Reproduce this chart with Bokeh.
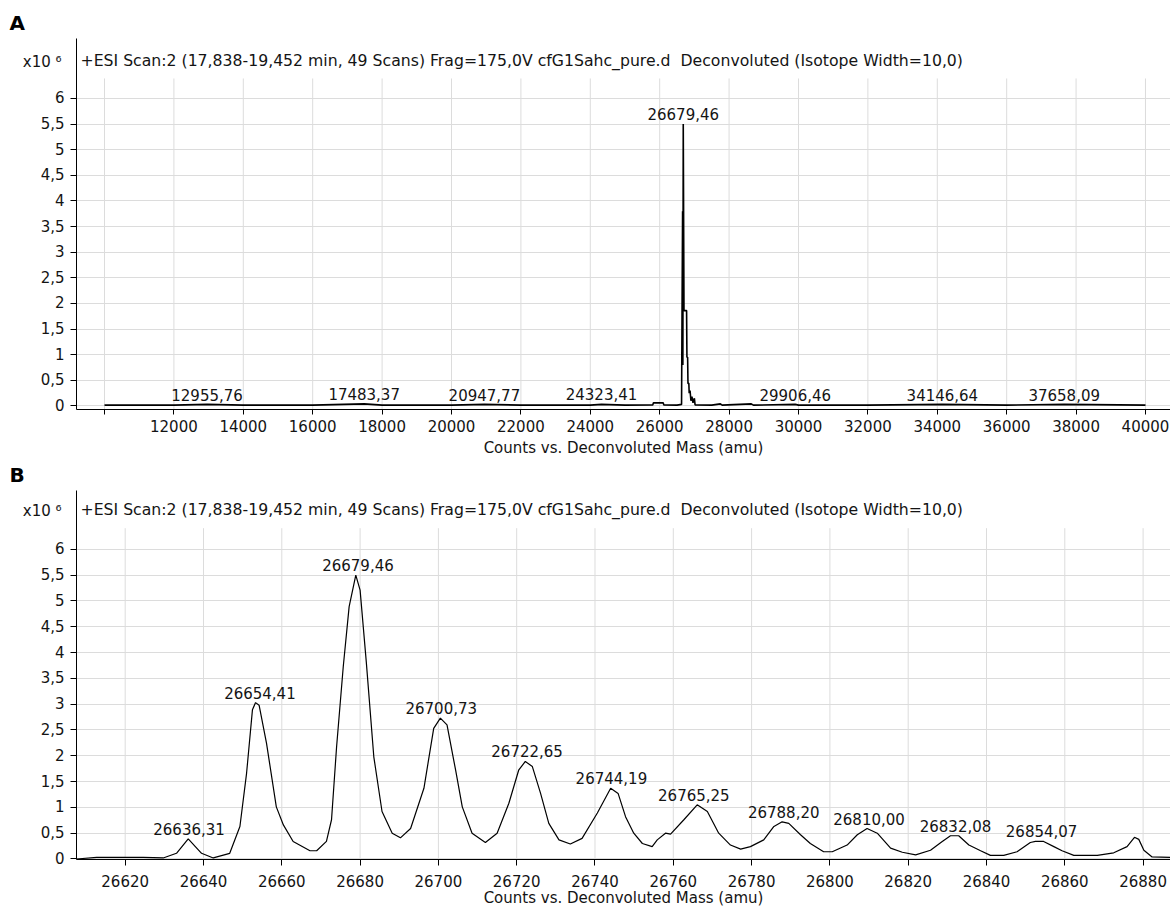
from bokeh.plotting import figure
from bokeh.layouts import column
from bokeh.models import FixedTicker, Label, ColumnDataSource, Range1d, LinearAxis
from bokeh.embed import file_html
from bokeh.resources import INLINE
from bokeh.core.properties import value

# ---------------- data ----------------
header_text = "+ESI Scan:2 (17,838-19,452 min, 49 Scans) Frag=175,0V cfG1Sahc_pure.d  Deconvoluted (Isotope Width=10,0)"
x_axis_title = "Counts vs. Deconvoluted Mass (amu)"
y_scale_text = "x10 \u2076\u2009"

y_ticks = [0, 0.5, 1, 1.5, 2, 2.5, 3, 3.5, 4, 4.5, 5, 5.5, 6]
y_tick_labels = ["0", "0,5", "1", "1,5", "2", "2,5", "3", "3,5", "4", "4,5", "5", "5,5", "6"]

# Panel A: full deconvoluted mass range (counts x10^6)
a_x_ticks = [10000, 12000, 14000, 16000, 18000, 20000, 22000, 24000, 26000, 28000,
             30000, 32000, 34000, 36000, 38000, 40000]
a_x_tick_labels = ["", "12000", "14000", "16000", "18000", "20000", "22000", "24000", "26000", "28000",
                   "30000", "32000", "34000", "36000", "38000", "40000"]
mass_a = [10000, 12000, 12955.76, 14000, 16000, 17483.37, 18000, 20000, 20947.77, 22000,
          24000, 24323.41, 25000, 25800, 25820, 26100, 26120, 26500, 26630, 26660,
          26668, 26679, 26700, 26775, 26785, 26805, 26815, 26840, 26850, 26875,
          26900, 26930, 26960, 27000, 27020, 27500, 27750, 27800, 28640, 28700,
          29906.46, 30000, 32000, 34146.64, 36000, 37658.09, 40000]
counts_a = [0.015, 0.015, 0.03, 0.015, 0.015, 0.04, 0.015, 0.015, 0.03, 0.015,
            0.015, 0.03, 0.015, 0.02, 0.06, 0.06, 0.02, 0.015, 0.03, 3.80,
            0.80, 5.50, 1.86, 1.86, 0.95, 0.95, 0.44, 0.44, 0.25, 0.30,
            0.10, 0.18, 0.06, 0.15, 0.02, 0.015, 0.04, 0.015, 0.04, 0.015,
            0.03, 0.015, 0.015, 0.03, 0.015, 0.03, 0.015]
a_peak_mass = [12955.76, 17483.37, 20947.77, 24323.41, 26679.46, 29906.46, 34146.64, 37658.09]
a_peak_height = [0.02, 0.03, 0.02, 0.03, 5.50, 0.02, 0.02, 0.02]

# Panel B: zoom on the main charge-state envelope
b_x_ticks = [26620, 26640, 26660, 26680, 26700, 26720, 26740, 26760, 26780, 26800,
             26820, 26840, 26860, 26880]
b_x_tick_labels = [str(t) for t in b_x_ticks]
mass_b = [26607.6, 26612.7, 26624.6, 26629.7, 26633.1, 26636.1, 26639.5, 26642.5, 26646.7, 26649.3,
          26651.0, 26652.5, 26653.3, 26654.2, 26656.1, 26658.6, 26660.4, 26662.9, 26667.2, 26668.9,
          26671.4, 26672.7, 26674.0, 26675.7, 26677.2, 26678.9, 26680.0, 26681.6, 26683.5, 26685.6,
          26688.2, 26690.3, 26692.9, 26696.3, 26698.8, 26700.5, 26702.2, 26704.4, 26706.1, 26708.6,
          26712.0, 26715.0, 26718.0, 26720.5, 26722.2, 26724.0, 26726.1, 26728.2, 26730.8, 26733.7,
          26736.7, 26740.6, 26744.0, 26745.9, 26747.8, 26749.9, 26752.1, 26754.6, 26755.9, 26758.0,
          26759.3, 26762.7, 26766.1, 26768.7, 26771.6, 26774.6, 26777.2, 26779.7, 26783.1, 26785.7,
          26787.8, 26789.5, 26792.5, 26795.0, 26798.4, 26800.6, 26804.4, 26807.0, 26809.5, 26812.1,
          26815.5, 26818.5, 26821.9, 26825.7, 26828.7, 26830.8, 26832.9, 26835.5, 26838.5, 26841.0,
          26844.4, 26847.8, 26851.2, 26852.5, 26854.6, 26857.2, 26859.3, 26862.3, 26868.3, 26872.5,
          26875.9, 26877.8, 26878.9, 26880.2, 26882.3, 26887.0]
counts_b = [0.00, 0.03, 0.03, 0.02, 0.11, 0.39, 0.11, 0.02, 0.11, 0.63,
            1.66, 2.89, 3.03, 2.98, 2.24, 1.01, 0.66, 0.34, 0.16, 0.16,
            0.34, 0.76, 2.18, 3.73, 4.89, 5.50, 5.21, 3.80, 1.98, 0.92,
            0.50, 0.41, 0.59, 1.37, 2.53, 2.73, 2.60, 1.72, 1.01, 0.50,
            0.32, 0.50, 1.08, 1.72, 1.89, 1.79, 1.27, 0.69, 0.37, 0.29,
            0.40, 0.89, 1.37, 1.27, 0.82, 0.50, 0.30, 0.24, 0.37, 0.50,
            0.48, 0.76, 1.05, 0.92, 0.50, 0.27, 0.19, 0.24, 0.37, 0.63,
            0.72, 0.69, 0.47, 0.30, 0.14, 0.14, 0.27, 0.47, 0.59, 0.50,
            0.21, 0.13, 0.08, 0.17, 0.34, 0.45, 0.45, 0.27, 0.16, 0.07,
            0.07, 0.14, 0.32, 0.34, 0.34, 0.24, 0.16, 0.07, 0.07, 0.12,
            0.24, 0.42, 0.38, 0.17, 0.04, 0.03]
b_peak_mass = [26636.31, 26654.41, 26679.46, 26700.73, 26722.65, 26744.19, 26765.25,
               26788.20, 26810.00, 26832.08, 26854.07]
b_peak_height = [0.39, 3.03, 5.50, 2.73, 1.89, 1.37, 1.05, 0.72, 0.59, 0.45, 0.34]

# ---------------- styling ----------------
FONT = "DejaVu Sans"
FS = "15px"
TXT = "#141414"
GRID = "#dcdcdc"


def fmt_mass(m):
    return f"{m:.2f}".replace(".", ",")


def make_panel(letter, height, top, bottom, xr, yr, grid_top, scale_pos, xticks, xlabels,
               masses, counts, pk_mass, pk_height, lw, head_dy,
               title_align, title_standoff, x_tick_out, x_standoff, x_label_standoff):
    p = figure(width=1170, height=height, x_range=Range1d(*xr), y_range=Range1d(*yr),
               output_backend="svg", toolbar_location=None,
               min_border_left=76, min_border_right=0, min_border_top=top, min_border_bottom=bottom)
    p.outline_line_color = None
    p.background_fill_color = "white"
    p.border_fill_color = "white"
    fh = height - top - bottom

    # panel letter as the plot title
    p.title.text = letter
    p.title.align = "left"
    p.title.vertical_align = title_align
    p.title.offset = -67
    p.title.standoff = title_standoff
    p.title.text_font = FONT
    p.title.text_font_size = "20px"
    p.title.text_font_style = "bold"
    p.title.text_color = "black"

    # grids
    p.xgrid.visible = False
    p.ygrid.ticker = FixedTicker(ticks=y_ticks)
    p.ygrid.grid_line_color = GRID
    p.segment(x0=xticks, x1=xticks, y0=[yr[0]] * len(xticks), y1=[grid_top] * len(xticks),
              line_color=GRID, line_width=1, level="underlay")

    # x axis
    xa = p.xaxis[0]
    xa.ticker = FixedTicker(ticks=xticks)
    xa.major_label_overrides = {t: s for t, s in zip(xticks, xlabels)}
    xa.minor_tick_line_color = None
    xa.major_tick_in = 0
    xa.major_tick_out = x_tick_out
    xa.major_label_standoff = x_standoff
    xa.axis_label = x_axis_title
    xa.axis_label_standoff = x_label_standoff
    xa.axis_label_text_font = FONT
    xa.axis_label_text_font_size = FS
    xa.axis_label_text_font_style = "normal"
    xa.axis_label_text_color = TXT
    xa.major_label_text_font = FONT
    xa.major_label_text_font_size = FS
    xa.major_label_text_color = TXT
    xa.axis_line_color = "black"
    xa.major_tick_line_color = "black"

    # y axis: line + tick marks only
    ya = p.yaxis[0]
    ya.ticker = FixedTicker(ticks=y_ticks)
    ya.major_label_overrides = {t: "" for t in y_ticks}
    ya.minor_tick_line_color = None
    ya.major_tick_in = 0
    ya.major_tick_out = 6
    ya.major_label_standoff = 0
    ya.axis_line_color = "black"
    ya.major_tick_line_color = "black"

    # y labels (incl. the x10^6 scale marker) on an outer label-only axis
    ticks2 = y_ticks + [scale_pos]
    labels2 = y_tick_labels + [y_scale_text]
    ylab = LinearAxis(ticker=FixedTicker(ticks=ticks2),
                      major_label_overrides={t: s for t, s in zip(ticks2, labels2)},
                      axis_line_color=None, major_tick_line_color=None, minor_tick_line_color=None,
                      major_tick_out=0, major_tick_in=0, major_label_standoff=6,
                      major_label_text_font=FONT, major_label_text_font_size=FS,
                      major_label_text_color=TXT)
    p.add_layout(ylab, "left")

    # spectrum
    src = ColumnDataSource(dict(x=masses, y=counts))
    p.line("x", "y", source=src, line_color="black", line_width=lw)

    # peak labels
    lsrc = ColumnDataSource(dict(x=pk_mass, y=pk_height, t=[fmt_mass(m) for m in pk_mass]))
    p.text("x", "y", text="t", source=lsrc, text_align="center", text_baseline="bottom",
           y_offset=-4, text_font=value(FONT), text_font_size=FS, text_color=TXT)

    # acquisition header inside the frame
    p.add_layout(Label(x=4, y=fh - head_dy, x_units="screen", y_units="screen",
                       text=header_text.replace("  ", "\u00a0 "),
                       text_font=FONT, text_font_size="15.7px", text_color=TXT, text_baseline="middle"))
    return p


pa = make_panel("A", 460, 38, 51, (9193, 40721), (-0.07, 7.17), 6.39, 6.72,
                a_x_ticks, a_x_tick_labels, mass_a, counts_a, a_peak_mass, a_peak_height,
                1.6, 22, "bottom", 8, 5, 5, 4)
pb = make_panel("B", 449, 30, 50, (26607.56, 26887.0), (-0.01, 7.14), 6.41, 6.75,
                b_x_ticks, b_x_tick_labels, mass_b, counts_b, b_peak_mass, b_peak_height,
                1.2, 19, "top", 3, 6, 9, -1)

layout = column(pa, pb, spacing=0)
open("out.html", "w").write(file_html(layout, INLINE))
